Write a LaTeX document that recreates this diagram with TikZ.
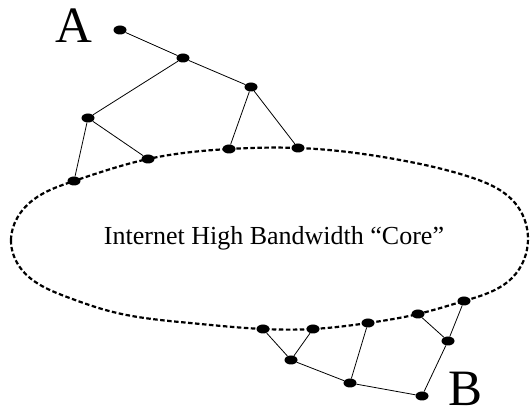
\documentclass[tikz,border=0pt]{standalone}
\usepackage{fontspec}
\setmainfont{Liberation Serif}
\usetikzlibrary{shapes.geometric,hobby}
\tikzset{
  dot/.style={ellipse, fill=black, draw=none, inner sep=0pt, minimum width=13pt, minimum height=9pt},
  link/.style={line width=0.8pt, black},
  core/.style={line width=2.2pt, dash pattern=on 4.5pt off 2.5pt, black},
  biglabel/.style={font=\fontsize{51}{51}\selectfont, inner sep=0pt, anchor=base},
  corelabel/.style={font=\fontsize{26}{26}\selectfont, inner sep=0pt, anchor=base}
}
\begin{document}
\begin{tikzpicture}[x=1pt, y=-1pt]
\useasboundingbox (0,0) rectangle (531,411);
% core outline
\draw[core] (11,240) to[closed, curve through={(33,200) (74,181) (148,159) (229,149) (298,148) (400,160)
 (470,177) (515,203) (528,238) (512,278) (464,301)
 (418,314) (368,323) (313,329) (263,329) (190,323) (113,312) (67,297) (22,270)}] (11,240);
\node[corelabel] (core) at (274,245) {Internet High Bandwidth “Core”};
% labels
\node[biglabel] (A) at (74,43) {A};
\node[biglabel] (B) at (466,406) {B};
% top nodes
\node[dot] (n1) at (120,30) {};
\node[dot] (n2) at (183,58) {};
\node[dot] (n3) at (251,87) {};
\node[dot] (n4) at (88,118) {};
\node[dot] (n5) at (148,159) {};
\node[dot] (n6) at (229,149) {};
\node[dot] (n7) at (298,148) {};
\node[dot] (n8) at (74,181) {};
% bottom nodes
\node[dot] (b1) at (263,329) {};
\node[dot] (b2) at (313,329) {};
\node[dot] (b3) at (368,323) {};
\node[dot] (b4) at (418,314) {};
\node[dot] (b5) at (464,301) {};
\node[dot] (c1) at (291,360) {};
\node[dot] (c2) at (350,383) {};
\node[dot] (c3) at (422,396) {};
\node[dot] (c4) at (448,341) {};
% links
\draw[link] (n1) -- (n2);
\draw[link] (n2) -- (n3);
\draw[link] (n2) -- (n4);
\draw[link] (n4) -- (n8);
\draw[link] (n4) -- (n5);
\draw[link] (n3) -- (n6);
\draw[link] (n3) -- (n7);
\draw[link] (b1) -- (c1);
\draw[link] (b2) -- (c1);
\draw[link] (c1) -- (c2);
\draw[link] (c2) -- (b3);
\draw[link] (c2) -- (c3);
\draw[link] (c3) -- (c4);
\draw[link] (c4) -- (b5);
\draw[link] (c4) -- (b4);
\end{tikzpicture}
\end{document}
